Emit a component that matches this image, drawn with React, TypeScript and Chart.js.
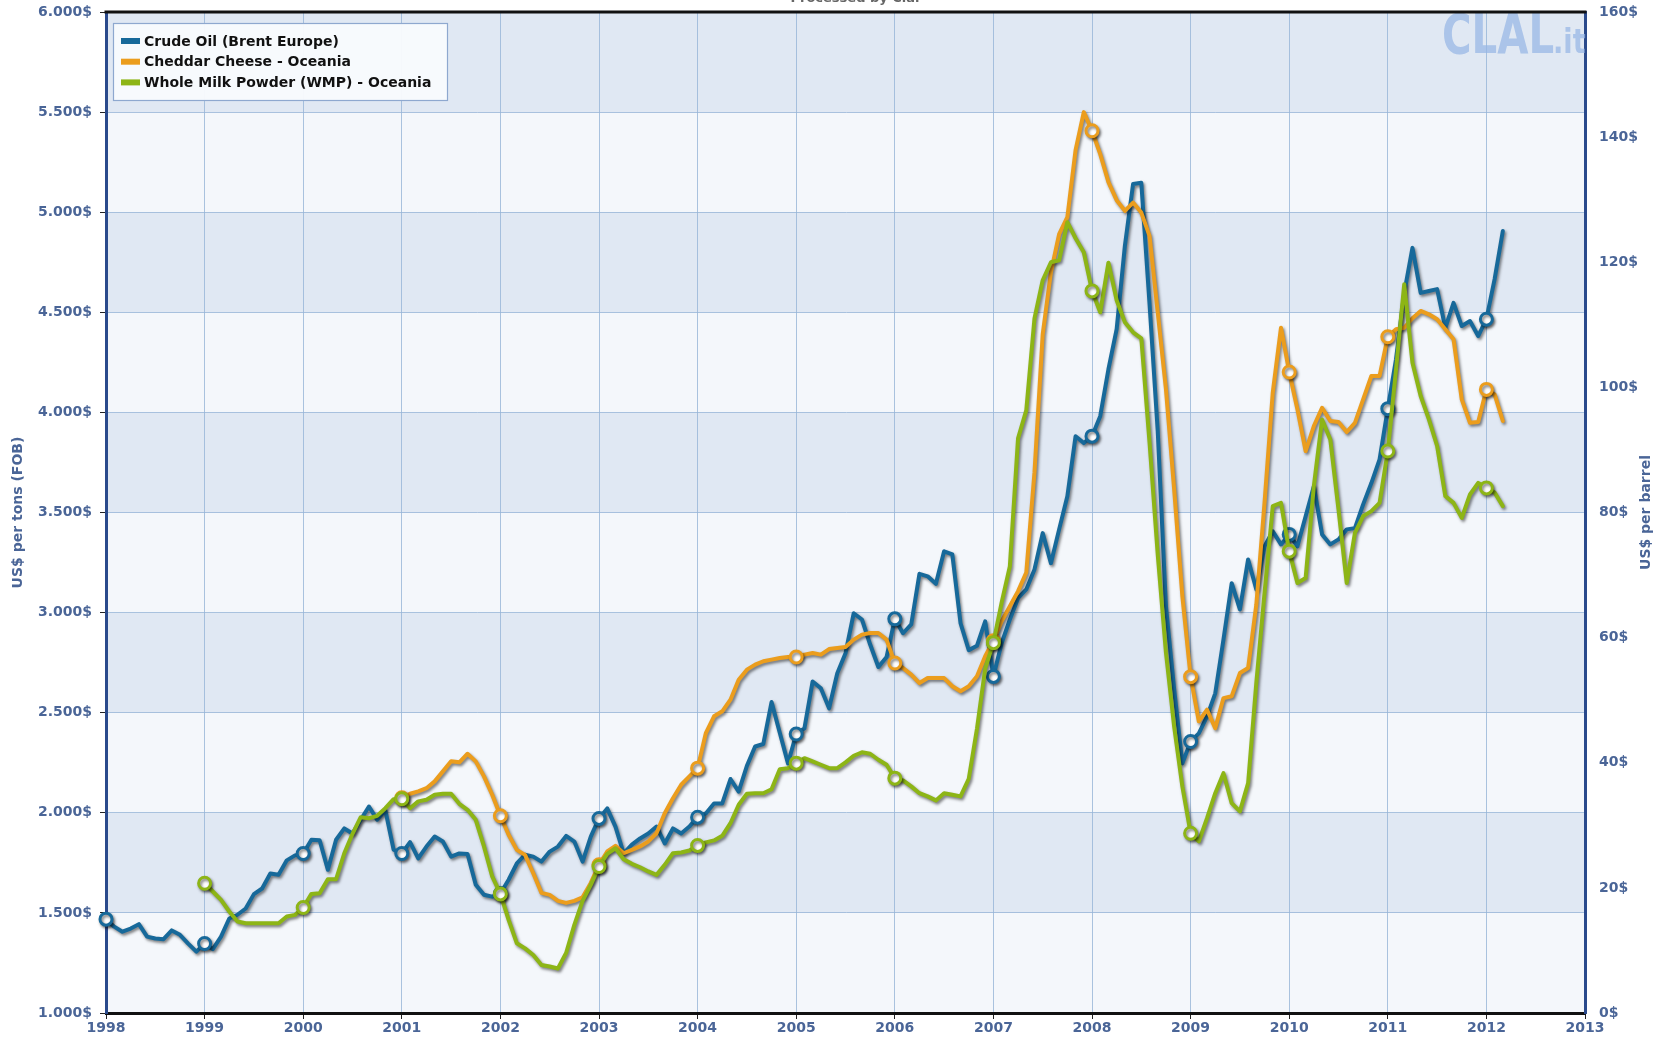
import React, { useEffect, useRef } from "react";
import { Chart, registerables } from "chart.js";

Chart.register(...registerables);

// ---------- data (monthly averages) ----------
const SERIES_LABELS = [
  "Crude Oil (Brent Europe)",
  "Cheddar Cheese - Oceania",
  "Whole Milk Powder (WMP) - Oceania",
];

const OIL_START_YEAR = 1998; // US$ per barrel, from Jan 1998
const oilUsdPerBarrel = [
  15.0, 13.8, 13.0, 13.5, 14.2, 12.2, 11.9, 11.8, 13.2, 12.5, 11.1, 9.8,
  11.1, 10.2, 12.2, 15.1, 15.7, 16.7, 19.0, 19.9, 22.3, 22.1, 24.4, 25.2,
  25.5, 27.7, 27.6, 22.9, 27.7, 29.5, 28.7, 30.9, 33.0, 30.9, 32.4, 26.1,
  25.5, 27.3, 24.7, 26.6, 28.2, 27.4, 25.0, 25.5, 25.4, 20.5, 18.9, 18.6,
  19.1, 21.3, 23.9, 25.3, 25.0, 24.2, 25.8, 26.6, 28.3, 27.4, 24.2, 28.2,
  31.1, 32.7, 29.8, 25.5, 26.9, 27.9, 28.7, 29.8, 27.1, 29.5, 28.7, 29.8,
  31.3, 31.9, 33.5, 33.5, 37.4, 35.4, 39.5, 42.6, 43.0, 49.7, 44.8, 39.9,
  44.6, 45.5, 53.0, 51.9, 48.7, 54.3, 57.5, 63.9, 62.9, 58.9, 55.3, 56.9,
  63.0, 60.7, 62.1, 70.2, 69.8, 68.6, 73.8, 73.3, 62.3, 58.0, 58.7, 62.6,
  53.8, 59.1, 62.9, 66.3, 67.7, 70.9, 76.7, 71.9, 77.3, 82.6, 92.2, 91.1,
  92.2, 95.4, 102.9, 109.3, 122.6, 132.5, 132.7, 113.4, 93.0, 65.0, 51.7, 39.9,
  43.4, 44.7, 47.4, 51.1, 59.7, 68.7, 64.5, 72.5, 67.7, 74.6, 77.0, 74.9,
  76.5, 74.6, 79.4, 84.2, 76.5, 74.9, 75.7, 77.3, 77.5, 81.3, 84.7, 88.5,
  96.6, 104.5, 115.1, 122.3, 115.1, 115.4, 115.7, 109.5, 113.5, 109.8, 110.6, 108.2,
  110.9, 117.3, 125.0,
];

const CHEESE_START_YEAR = 2001; // US$ per ton FOB, from Jan 2001
const cheeseUsdPerTon = [
  2075, 2095, 2107, 2123, 2157, 2207, 2257, 2252, 2295, 2257, 2182, 2090,
  1985, 1890, 1815, 1790, 1698, 1600, 1590, 1560, 1550, 1560, 1578, 1650,
  1740, 1807, 1835, 1798, 1815, 1832, 1857, 1898, 1998, 2073, 2140, 2182,
  2223, 2398, 2482, 2507, 2565, 2665, 2715, 2740, 2757, 2765, 2773, 2778,
  2778, 2790, 2798, 2790, 2818, 2823, 2828, 2865, 2890, 2898, 2898, 2865,
  2748, 2723, 2690, 2648, 2673, 2673, 2673, 2632, 2607, 2632, 2682, 2782,
  2860, 2957, 3032, 3107, 3200, 3700, 4390, 4700, 4890, 4975, 5310, 5500,
  5407, 5290, 5150, 5060, 5007, 5048, 4998, 4882, 4500, 4115, 3615, 3080,
  2680, 2457, 2515, 2423, 2573, 2582, 2698, 2723, 3040, 3550, 4100, 4423,
  4202, 4015, 3807, 3932, 4023, 3957, 3952, 3902, 3948, 4065, 4182, 4182,
  4378, 4415, 4423, 4470, 4507, 4490, 4465, 4415, 4365, 4065, 3948, 3952,
  4115, 4090, 3957,
];

const WMP_START_YEAR = 1999; // US$ per ton FOB, from Jan 1999
const wmpUsdPerTon = [
  1648, 1607, 1565, 1507, 1457, 1448, 1448, 1448, 1448, 1448, 1482, 1490,
  1527, 1595, 1598, 1668, 1668, 1798, 1895, 1978, 1973, 1985, 2023, 2068,
  2070, 2023, 2057, 2065, 2090, 2095, 2095, 2045, 2015, 1965, 1832, 1682,
  1595, 1465, 1348, 1323, 1290, 1240, 1232, 1222, 1300, 1440, 1560, 1640,
  1732, 1795, 1823, 1768, 1745, 1728, 1707, 1690, 1740, 1798, 1802, 1812,
  1837, 1852, 1862, 1885, 1948, 2040, 2095, 2098, 2098, 2118, 2218, 2223,
  2248, 2273, 2257, 2240, 2223, 2223, 2252, 2285, 2302, 2295, 2265, 2240,
  2173, 2162, 2132, 2098, 2082, 2062, 2098, 2090, 2082, 2170, 2420, 2720,
  2850, 3050, 3230, 3870, 4010, 4470, 4660, 4750, 4760, 4950, 4870, 4800,
  4607, 4500, 4748, 4560, 4450, 4400, 4370, 3850, 3290, 2800, 2430, 2130,
  1898, 1857, 1973, 2098, 2198, 2048, 2007, 2148, 2650, 3100, 3532, 3548,
  3307, 3148, 3173, 3632, 3965, 3865, 3515, 3148, 3398, 3482, 3507, 3548,
  3807, 4215, 4640, 4248, 4082, 3965, 3832, 3582, 3548, 3473, 3590, 3648,
  3623, 3600, 3532,
];

const X_MIN_YEAR = 1998;
const X_MAX_YEAR = 2013;
const LEFT_MIN = 1000;
const LEFT_MAX = 6000;
const LEFT_STEP = 500;
const RIGHT_MIN = 0;
const RIGHT_MAX = 160;
const RIGHT_STEP = 20;

const LEFT_TITLE = "US$ per tons (FOB)";
const RIGHT_TITLE = "US$ per barrel";
const TOP_NOTE = "Processed by Clal";

// ---------- styling ----------
const COLORS = ["#17699a", "#eb9d1d", "#8db516"];
const FONT = "'DejaVu Sans', Verdana, sans-serif";
const TICK_COLOR = "#4a6597";
const GRID_COLOR = "rgba(150,180,215,0.8)";
const BAND_DARK = "#e0e8f3";
const BAND_LIGHT = "#f4f7fb";

const W = 1665;
const H = 1040;

function toPoints(startYear: number, values: number[]) {
  return values.map((v, i) => ({ x: startYear + i / 12, y: v }));
}

function fmtUsd(v: number): string {
  if (v >= 1000) {
    const th = Math.floor(v / 1000);
    const rest = String(Math.round(v % 1000)).padStart(3, "0");
    return `${th}.${rest}$`;
  }
  return `${v}$`;
}

const decorPlugin = {
  id: "decor",
  beforeDraw(chart: any) {
    const { ctx, chartArea: a, scales } = chart;
    const y = scales.y;
    ctx.save();
    ctx.fillStyle = "#ffffff";
    ctx.fillRect(0, 0, chart.width, chart.height);
    let idx = 0;
    for (let v = LEFT_MIN; v < LEFT_MAX; v += LEFT_STEP) {
      const y0 = y.getPixelForValue(v);
      const y1 = y.getPixelForValue(v + LEFT_STEP);
      ctx.fillStyle = idx % 2 === 1 ? BAND_DARK : BAND_LIGHT;
      ctx.fillRect(a.left, y1, a.right - a.left, y0 - y1);
      idx++;
    }
    ctx.restore();
  },
  beforeDatasetsDraw(chart: any) {
    const { ctx, chartArea: a } = chart;
    ctx.save();
    ctx.fillStyle = "rgba(150,182,228,0.72)";
    ctx.textBaseline = "alphabetic";
    ctx.textAlign = "left";
    ctx.save();
    ctx.translate(a.right - 143, a.top + 41);
    ctx.scale(0.72, 1);
    ctx.font = `bold 56px ${FONT}`;
    ctx.fillText("CLAL", 0, 0);
    ctx.restore();
    ctx.font = `bold 34px ${FONT}`;
    ctx.save();
    ctx.translate(a.right - 32, a.top + 41);
    ctx.scale(0.8, 1);
    ctx.fillText(".it", 0, 0);
    ctx.restore();
    ctx.restore();
  },
  beforeDatasetDraw(chart: any) {
    const ctx = chart.ctx;
    ctx.save();
    ctx.shadowColor = "rgba(0,0,0,0.5)";
    ctx.shadowBlur = 3;
    ctx.shadowOffsetX = 1.5;
    ctx.shadowOffsetY = 2;
  },
  afterDatasetDraw(chart: any) {
    chart.ctx.restore();
  },
  afterDraw(chart: any) {
    const { ctx, chartArea: a } = chart;
    ctx.save();
    ctx.strokeStyle = "#111";
    ctx.lineWidth = 3;
    ctx.beginPath();
    ctx.moveTo(a.left - 1.5, a.top);
    ctx.lineTo(a.right + 1.5, a.top);
    ctx.stroke();

    ctx.fillStyle = TICK_COLOR;
    ctx.font = `bold 14px ${FONT}`;
    ctx.textAlign = "center";
    ctx.textBaseline = "middle";
    const cy = (a.top + a.bottom) / 2;
    ctx.save();
    ctx.translate(18, cy);
    ctx.rotate(-Math.PI / 2);
    ctx.fillText(LEFT_TITLE, 0, 0);
    ctx.restore();
    ctx.save();
    ctx.translate(1646, cy);
    ctx.rotate(-Math.PI / 2);
    ctx.fillText(RIGHT_TITLE, 0, 0);
    ctx.restore();

    ctx.fillStyle = "#666";
    ctx.font = `bold 13px ${FONT}`;
    ctx.textBaseline = "alphabetic";
    ctx.fillText(TOP_NOTE, 855, 2);

    const lx = a.left + 7;
    const ly = a.top + 11;
    const lw = 334;
    const lh = 77;
    ctx.fillStyle = "rgba(248,250,253,0.97)";
    ctx.fillRect(lx, ly, lw, lh);
    ctx.strokeStyle = "#8ea8cf";
    ctx.lineWidth = 1.2;
    ctx.strokeRect(lx + 0.5, ly + 0.5, lw, lh);
    ctx.font = `bold 14px ${FONT}`;
    ctx.textAlign = "left";
    ctx.textBaseline = "middle";
    SERIES_LABELS.forEach((label, i) => {
      const yy = ly + 18 + i * 20.7;
      ctx.fillStyle = COLORS[i];
      ctx.fillRect(lx + 8, yy - 3, 19, 6);
      ctx.fillStyle = "#111";
      ctx.fillText(label, lx + 31, yy + 1);
    });
    ctx.restore();
  },
};

export default function App() {
  const canvasRef = useRef<HTMLCanvasElement | null>(null);

  useEffect(() => {
    const canvas = canvasRef.current;
    if (!canvas) return;

    const marker = (ctx: any) => (ctx.dataIndex % 12 === 0 ? 6 : 0);
    const mkDataset = (label: string, data: any[], color: string, yAxisID: string, order: number) => ({
      label,
      data,
      yAxisID,
      order,
      borderColor: color,
      backgroundColor: color,
      borderWidth: 4,
      borderJoinStyle: "round" as const,
      borderCapStyle: "round" as const,
      tension: 0,
      fill: false,
      clip: 10,
      pointRadius: marker,
      pointHoverRadius: marker,
      pointBackgroundColor: "#ffffff",
      pointBorderColor: color,
      pointBorderWidth: 3,
    });

    const noPadY = (w: number) => (s: any) => {
      s.width = w;
      s.paddingTop = 0;
      s.paddingBottom = 0;
    };

    const chart = new Chart(canvas, {
      type: "line",
      data: {
        datasets: [
          mkDataset(SERIES_LABELS[0], toPoints(OIL_START_YEAR, oilUsdPerBarrel), COLORS[0], "y2", 2),
          mkDataset(SERIES_LABELS[1], toPoints(CHEESE_START_YEAR, cheeseUsdPerTon), COLORS[1], "y", 1),
          mkDataset(SERIES_LABELS[2], toPoints(WMP_START_YEAR, wmpUsdPerTon), COLORS[2], "y", 0),
        ],
      },
      options: {
        animation: false,
        responsive: false,
        devicePixelRatio: 1,
        events: [],
        layout: { padding: { top: 12, left: 0, right: 0, bottom: 0 } },
        plugins: {
          legend: { display: false },
          tooltip: { enabled: false },
          title: { display: false },
        },
        scales: {
          x: {
            type: "linear",
            min: X_MIN_YEAR,
            max: X_MAX_YEAR,
            ticks: {
              stepSize: 1,
              autoSkip: false,
              maxRotation: 0,
              padding: 1,
              color: TICK_COLOR,
              font: { family: FONT, size: 14, weight: "bold" },
              callback: (v: any) => String(v),
            },
            grid: {
              color: GRID_COLOR,
              lineWidth: 1,
              tickColor: "#222",
              tickLength: 6,
            },
            border: { display: true, color: "#111", width: 3 },
            afterFit: (s: any) => {
              s.height = 27;
              s.paddingLeft = 0;
              s.paddingRight = 0;
            },
          },
          y: {
            type: "linear",
            position: "left",
            min: LEFT_MIN,
            max: LEFT_MAX,
            ticks: {
              stepSize: LEFT_STEP,
              padding: 8,
              color: TICK_COLOR,
              font: { family: FONT, size: 14, weight: "bold" },
              callback: (v: any) => fmtUsd(Number(v)),
            },
            grid: {
              color: GRID_COLOR,
              lineWidth: 1,
              tickColor: "#222",
              tickLength: 6,
            },
            border: { display: true, color: "#2a4a8c", width: 3 },
            afterFit: noPadY(106),
          },
          y2: {
            type: "linear",
            position: "right",
            min: RIGHT_MIN,
            max: RIGHT_MAX,
            ticks: {
              stepSize: RIGHT_STEP,
              padding: 14,
              color: TICK_COLOR,
              font: { family: FONT, size: 14, weight: "bold" },
              callback: (v: any) => `${v}$`,
            },
            grid: { drawOnChartArea: false, tickLength: 0, tickColor: "rgba(0,0,0,0)" },
            border: { display: true, color: "#2a4a8c", width: 3 },
            afterFit: noPadY(80),
          },
        },
      },
      plugins: [decorPlugin],
    });

    return () => {
      chart.destroy();
    };
  }, []);

  return (
    <div style={{ position: "absolute", left: 0, top: 0, width: W, height: H, background: "#fff" }}>
      <canvas ref={canvasRef} width={W} height={H} style={{ width: W, height: H, display: "block" }} />
    </div>
  );
}
